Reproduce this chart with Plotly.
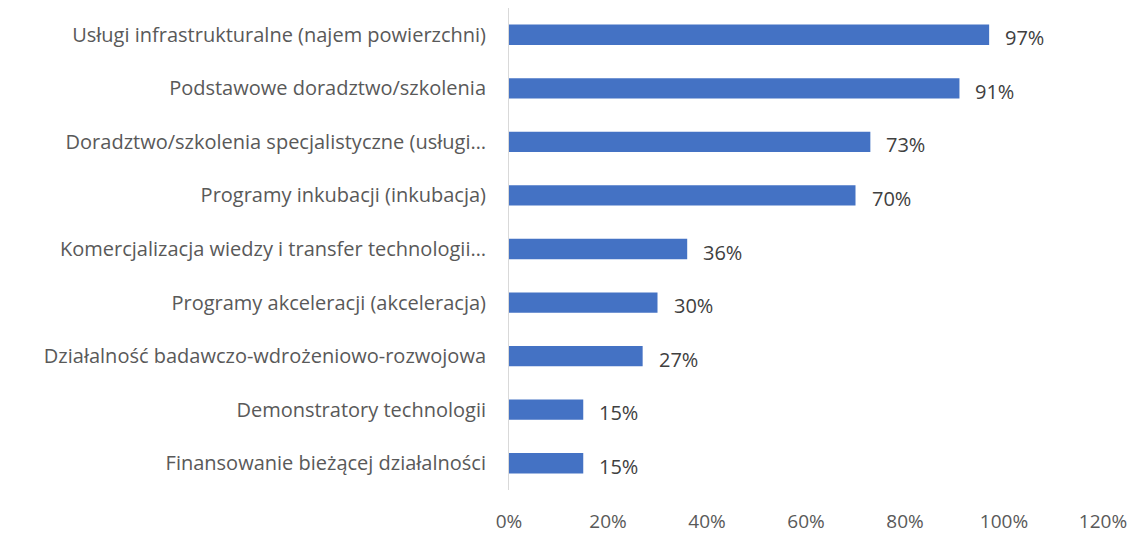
import plotly.graph_objects as go

categories = [
    "Usługi infrastrukturalne (najem powierzchni)",
    "Podstawowe doradztwo/szkolenia",
    "Doradztwo/szkolenia specjalistyczne (usługi…",
    "Programy inkubacji (inkubacja)",
    "Komercjalizacja wiedzy i transfer technologii…",
    "Programy akceleracji (akceleracja)",
    "Działalność badawczo-wdrożeniowo-rozwojowa",
    "Demonstratory technologii",
    "Finansowanie bieżącej działalności",
]
values = [0.97, 0.91, 0.73, 0.70, 0.36, 0.30, 0.27, 0.15, 0.15]
tick_vals = [0, 0.2, 0.4, 0.6, 0.8, 1.0, 1.2]
tick_text = ["0%", "20%", "40%", "60%", "80%", "100%", "120%"]

font_family = "'Open Sans', sans-serif"
fs = 20

fig = go.Figure(
    go.Bar(
        x=values,
        y=categories,
        orientation="h",
        marker=dict(color="#4472C4", line=dict(width=0)),
        width=0.38,
        hoverinfo="x+y",
    )
)

for cat, v in zip(categories, values):
    fig.add_annotation(
        x=v, y=cat, xref="x", yref="y",
        text=f"{round(v*100)}%",
        showarrow=False,
        xanchor="left", yanchor="middle",
        xshift=14, yshift=-3,
        font=dict(family=font_family, size=fs, color="#404040"),
    )

fig.update_layout(
    width=1135,
    height=534,
    margin=dict(l=501, r=40, t=0, b=52),
    paper_bgcolor="white",
    plot_bgcolor="white",
    showlegend=False,
    font=dict(family=font_family, size=fs, color="#595959"),
    xaxis=dict(
        range=[0, 1.2],
        tickvals=tick_vals,
        ticktext=tick_text,
        showgrid=False,
        zeroline=False,
        showline=False,
        ticks="",
        automargin=False,
        ticklabelstandoff=18,
        tickfont=dict(size=19, color="#595959"),
    ),
    yaxis=dict(
        autorange="reversed",
        showgrid=False,
        showline=True,
        linecolor="#D9D9D9",
        linewidth=1,
        ticks="",
        automargin=False,
        ticklabelstandoff=18,
        tickfont=dict(size=fs, color="#595959"),
    ),
)

fig.write_html("out.html")
